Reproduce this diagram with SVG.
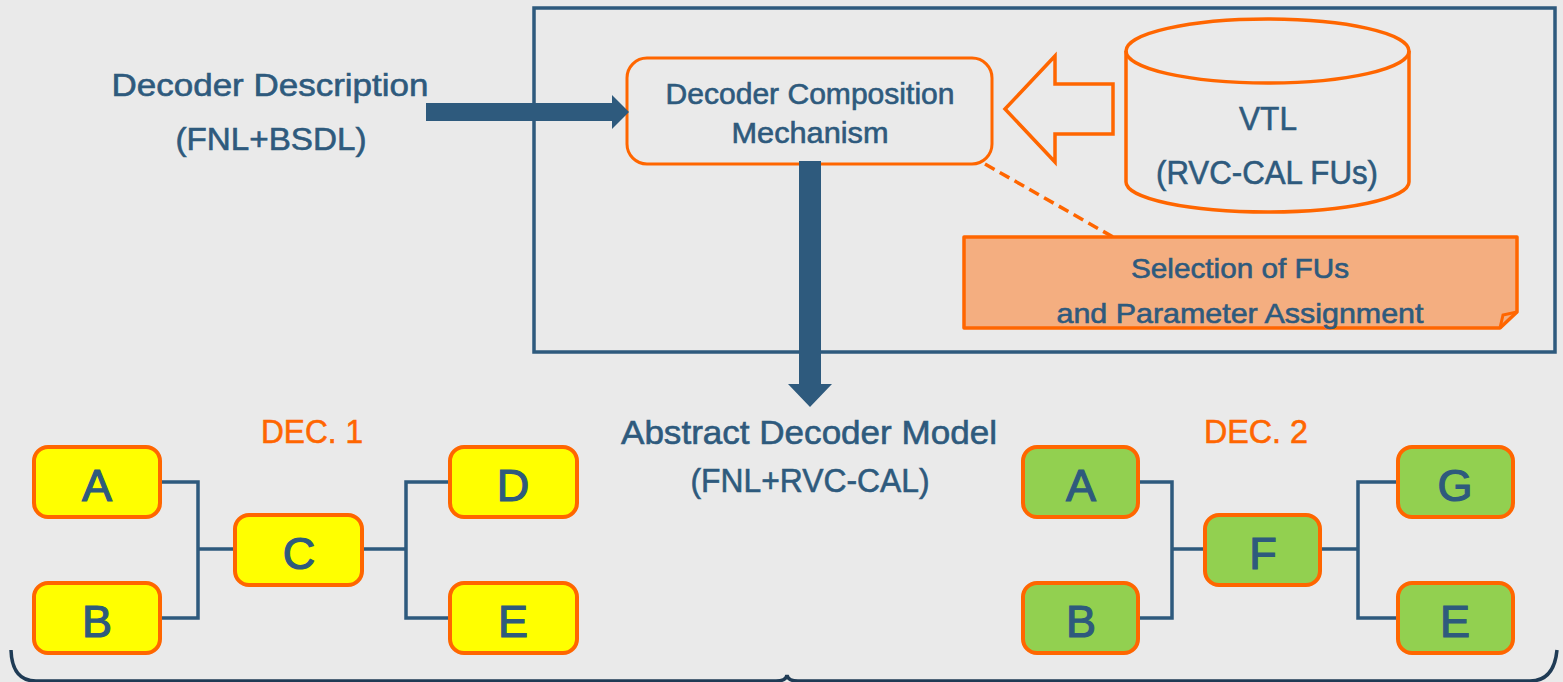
<svg xmlns="http://www.w3.org/2000/svg" width="1563" height="682" viewBox="0 0 1563 682">
<style>
.t{font-family:"Liberation Sans",Arial,sans-serif;fill:#2e5a7d;stroke:#2e5a7d;stroke-width:0.6;text-anchor:middle}
.o{font-family:"Liberation Sans",Arial,sans-serif;fill:#ff6600;stroke:#ff6600;stroke-width:0.6;text-anchor:middle}
.y{fill:#ffff00;stroke:#ff6600;stroke-width:4}
.g{fill:#92d050;stroke:#ff6600;stroke-width:4}
.L{font-size:45px;stroke-width:1.2}
.c{fill:none;stroke:#2e5a7d;stroke-width:3.5}
</style>
<rect width="1563" height="682" fill="#eaeaea"/>
<g id="frame"><rect x="534" y="8" width="1021" height="344" fill="none" stroke="#2e5a7d" stroke-width="3.5"/></g>
<g id="decoder-description">
<text class="t" x="270" y="96" font-size="32" textLength="317" lengthAdjust="spacingAndGlyphs">Decoder Description</text>
<text class="t" x="271" y="150" font-size="32" textLength="191" lengthAdjust="spacingAndGlyphs">(FNL+BSDL)</text>
</g>
<g id="composition">
<rect x="627" y="58" width="365" height="106" rx="20" fill="none" stroke="#ff6600" stroke-width="3"/>
<text class="t" x="810" y="104" font-size="29" textLength="289" lengthAdjust="spacingAndGlyphs">Decoder Composition</text>
<text class="t" x="810" y="143" font-size="29" textLength="157" lengthAdjust="spacingAndGlyphs">Mechanism</text>
</g>
<g id="vtl">
<path d="M1126,51 V182 A141.5,30 0 0 0 1409,182 V51" fill="none" stroke="#ff6600" stroke-width="3.5"/>
<ellipse cx="1267.5" cy="51" rx="141.5" ry="32" fill="none" stroke="#ff6600" stroke-width="3.5"/>
<text class="t" x="1268" y="130" font-size="34" textLength="58" lengthAdjust="spacingAndGlyphs">VTL</text>
<text class="t" x="1267" y="184" font-size="34" textLength="222" lengthAdjust="spacingAndGlyphs">(RVC-CAL FUs)</text>
</g>
<g id="selection-note">
<path d="M964,237 H1517 V312 L1500,328 H964 Z" fill="#f4ae80" stroke="#ff6600" stroke-width="3.5" stroke-linejoin="round"/>
<path d="M1500,328 L1503,315 L1517,312" fill="none" stroke="#ff6600" stroke-width="3"/>
<text class="t" x="1240" y="278" font-size="28" textLength="218" lengthAdjust="spacingAndGlyphs">Selection of FUs</text>
<text class="t" x="1240" y="323" font-size="28" textLength="367" lengthAdjust="spacingAndGlyphs">and Parameter Assignment</text>
</g>
<g id="abstract-model">
<text class="t" x="809" y="444" font-size="34" textLength="376" lengthAdjust="spacingAndGlyphs">Abstract Decoder Model</text>
<text class="t" x="810" y="492" font-size="34" textLength="239" lengthAdjust="spacingAndGlyphs">(FNL+RVC-CAL)</text>
</g>
<g id="dec1-label"><text class="o" x="312" y="443" font-size="34" textLength="102" lengthAdjust="spacingAndGlyphs">DEC. 1</text></g>
<g id="dec2-label"><text class="o" x="1256" y="443" font-size="34" textLength="104" lengthAdjust="spacingAndGlyphs">DEC. 2</text></g>
<g id="connectors">
<path d="M426,103 H612 V95 L629,112 L612,129 V121 H426 Z" fill="#2e5a7d"/>
<path d="M799,161 H821 V384 H832 L810,407 L788,384 H799 Z" fill="#2e5a7d"/>
<path d="M1005,109 L1055,56 V84 H1113 V134 H1055 V162 Z" fill="none" stroke="#ff6600" stroke-width="3.5"/>
<line x1="985" y1="164" x2="1113" y2="237" stroke="#ff6600" stroke-width="3.5" stroke-dasharray="11,6"/>
<path class="c" d="M161,482 H198 V618 H161 M198,549 H235 M362,549 H406 M450,482 H406 V618 H450"/>
<path class="c" d="M1138,482 H1172 V618 H1138 M1172,549 H1205 M1320,549 H1358 M1398,482 H1358 V618 H1398"/>
<path d="M11,650 Q12,681 36,681 L776,681 Q786,681 787,675 Q788,681 798,681 L1530,681 Q1554,681 1557,650" fill="none" stroke="#1f3b55" stroke-width="3.5"/>
</g>
<g id="dec1-A"><rect class="y" x="34" y="447" width="126" height="70" rx="14"/><text class="t L" x="97" y="501">A</text></g>
<g id="dec1-B"><rect class="y" x="34" y="583" width="126" height="70" rx="14"/><text class="t L" x="97" y="637">B</text></g>
<g id="dec1-C"><rect class="y" x="235" y="515" width="127" height="70" rx="14"/><text class="t L" x="299" y="569">C</text></g>
<g id="dec1-D"><rect class="y" x="450" y="447" width="127" height="70" rx="14"/><text class="t L" x="513" y="501">D</text></g>
<g id="dec1-E"><rect class="y" x="450" y="583" width="127" height="70" rx="14"/><text class="t L" x="513" y="637">E</text></g>
<g id="dec2-A"><rect class="g" x="1023" y="447" width="115" height="70" rx="14"/><text class="t L" x="1081" y="501">A</text></g>
<g id="dec2-B"><rect class="g" x="1023" y="583" width="115" height="70" rx="14"/><text class="t L" x="1081" y="637">B</text></g>
<g id="dec2-F"><rect class="g" x="1205" y="515" width="115" height="70" rx="14"/><text class="t L" x="1263" y="569">F</text></g>
<g id="dec2-G"><rect class="g" x="1398" y="447" width="115" height="70" rx="14"/><text class="t L" x="1455" y="501">G</text></g>
<g id="dec2-E"><rect class="g" x="1398" y="583" width="115" height="70" rx="14"/><text class="t L" x="1455" y="637">E</text></g>
</svg>
